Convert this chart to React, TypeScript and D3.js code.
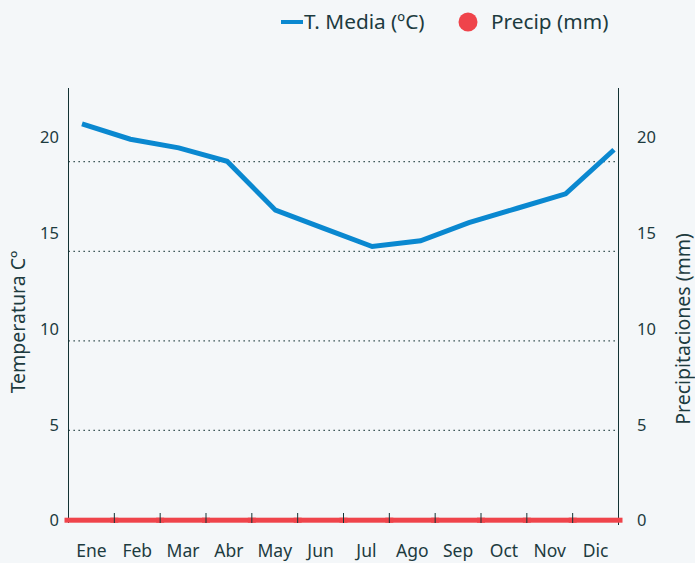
import React from 'react';
import * as d3 from 'd3';

const months = ['Ene', 'Feb', 'Mar', 'Abr', 'May', 'Jun', 'Jul', 'Ago', 'Sep', 'Oct', 'Nov', 'Dic'];
const tempMedia = [20.7, 19.9, 19.45, 18.75, 16.2, 15.25, 14.3, 14.6, 15.55, 16.3, 17.05, 19.35];
const precip = [0, 0, 0, 0, 0, 0, 0, 0, 0, 0, 0, 0];
const tickValues = [0, 5, 10, 15, 20];

const W = 695;
const H = 563;
const left = 68.5;
const right = 618.5;
const top = 88;
const bottom = 520;

const BLUE = '#0a88d0';
const RED = '#ef444b';
const TEXT = '#1d3b3f';
const AXIS = '#133234';
const FONT = '"Noto Sans", "Open Sans", sans-serif';

const App = () => {
  const xBand = d3.scaleBand<string>().domain(months).range([left, right]);
  const xLine = d3.scalePoint<string>().domain(months).range([82, 614]);
  // tick labels and data share one scale, the dotted grid another
  const yLabel = d3.scaleLinear().domain([0, 20]).range([bottom + 0.7, 137.3]);
  const yGrid = d3.scaleLinear().domain([0, 20]).range([bottom, 161.7]);

  const line = d3
    .line<number>()
    .x((_, i) => xLine(months[i]) as number)
    .y(d => yLabel(d));

  return (
    <svg width={W} height={H}
      style={{ position: 'absolute', left: 0, top: 0, display: 'block', background: '#f4f7f9' }}
      fontFamily={FONT}>
      {/* legend */}
      <g>
        <line x1={281} x2={303} y1={22} y2={22} stroke={BLUE} strokeWidth={4} />
        <text x={304} y={22} dy="0.35em" fontSize={20.8} fill={TEXT}>T. Media (ºC)</text>
        <circle cx={468} cy={22} r={9.5} fill={RED} />
        <text x={491} y={22} dy="0.35em" fontSize={20.8} fill={TEXT}>Precip (mm)</text>
      </g>

      {/* grid */}
      {tickValues.filter(v => v > 0).map(v => (
        <line key={v} x1={left} x2={right} y1={yGrid(v)} y2={yGrid(v)}
          stroke={AXIS} strokeWidth={1.3} strokeDasharray="1.3 3.7" />
      ))}

      {/* axes */}
      <line x1={left} x2={left} y1={top} y2={bottom + 3} stroke={AXIS} strokeWidth={1} />
      <line x1={right} x2={right} y1={top} y2={bottom + 5} stroke={AXIS} strokeWidth={1} />

      {/* precipitation */}
      {precip.map((p, i) => (
        <rect key={i} x={(xBand(months[i]) as number) - 4} width={xBand.bandwidth() + 8}
          y={yLabel(p) - 3} height={5} fill={RED} />
      ))}

      {/* x ticks */}
      {months.slice(1).map(m => (
        <line key={m} x1={xBand(m)} x2={xBand(m)} y1={bottom - 7} y2={bottom + 3} stroke={AXIS} strokeWidth={1} />
      ))}

      {/* temperature */}
      <path d={line(tempMedia) || ''} fill="none" stroke={BLUE} strokeWidth={5} strokeLinejoin="miter" />

      {/* tick labels */}
      {tickValues.map(v => (
        <text key={'l' + v} x={59} y={yLabel(v)} dy="0.35em" textAnchor="end" fontSize={16.5} fill={TEXT}>{v}</text>
      ))}
      {tickValues.map(v => (
        <text key={'r' + v} x={637} y={yLabel(v)} dy="0.35em" textAnchor="start" fontSize={16.5} fill={TEXT}>{v}</text>
      ))}
      {months.map(m => (
        <text key={m} x={(xBand(m) as number) + xBand.bandwidth() / 2} y={551} dy="0.35em"
          textAnchor="middle" fontSize={17.5} fill={TEXT}>{m}</text>
      ))}

      {/* axis titles */}
      <text transform="translate(18,322) rotate(-90)" dy="0.35em" textAnchor="middle" fontSize={19.5} fill={TEXT}>
        Temperatura Cº
      </text>
      <text transform="translate(683,329) rotate(-90)" dy="0.35em" textAnchor="middle" fontSize={19.5} fill={TEXT}>
        Precipitaciones (mm)
      </text>
    </svg>
  );
};

export default App;
